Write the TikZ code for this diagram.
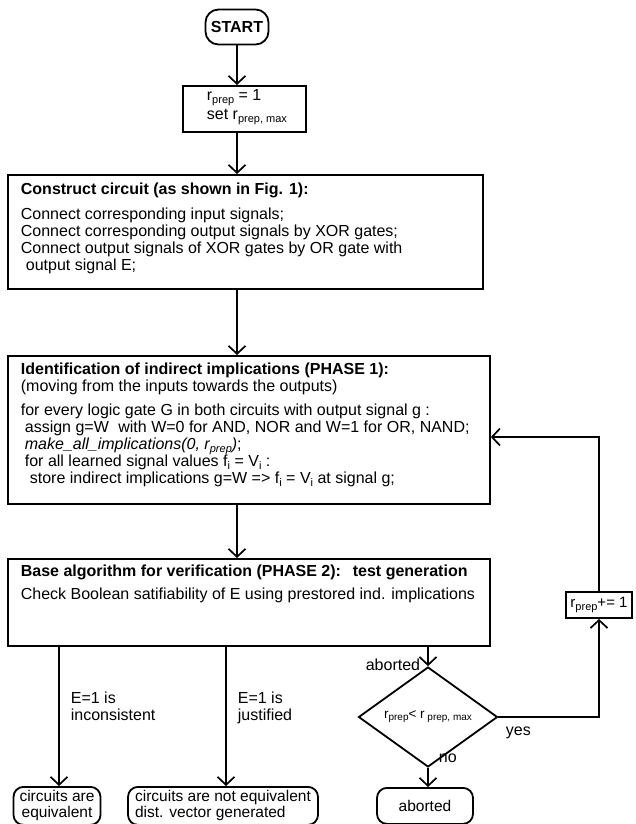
\documentclass[tikz,border=0pt]{standalone}
\usepackage{fontspec}
\setmainfont{Liberation Sans}
\usetikzlibrary{arrows.meta,shapes.geometric}
\newcommand{\sbx}[1]{\raisebox{-0.35ex}{\fontsize{11}{11}\selectfont #1}}
\newcommand{\sbd}[1]{\raisebox{-0.3ex}{\fontsize{10}{10}\selectfont #1}}
\begin{document}
\begin{tikzpicture}[x=1pt,y=-1pt,line width=1.8pt,
  >={Straight Barb[length=8pt,width=17pt,line width=1.7pt]},
  box/.style={draw,rectangle,inner sep=0pt},
  txt/.style={inner sep=0pt,align=left,font=\fontsize{16}{17}\selectfont},
  term/.style={draw,rounded corners=10pt,inner sep=0pt,align=center,font=\fontsize{15.5}{16}\selectfont},
  lbl/.style={inner sep=0pt,align=left,font=\fontsize{16}{17}\selectfont}]
\useasboundingbox (0,0) rectangle (636,824);
\fill[white] (0,0) rectangle (636,824);

% START
\node[term,rounded corners=13pt,minimum width=63pt,minimum height=35pt,font=\fontsize{16}{17}\selectfont\bfseries] (start) at (237,27) {START};

% box 2
\node[box,anchor=north west,minimum width=123pt,minimum height=46pt] (b2) at (182,85) {};
\node[txt,anchor=north west,font=\fontsize{16}{19}\selectfont] (t2) at (206,89) {r\sbx{prep} = 1\\set r\sbx{prep, max}};

% box 3
\node[box,anchor=north west,minimum width=475pt,minimum height=114pt] (b3) at (7,174) {};
\node[txt,anchor=north west] (t3) at (20,182) {\textbf{Construct circuit (as shown in Fig. 1):}\\[8pt]
Connect corresponding input signals;\\
Connect corresponding output signals by XOR gates;\\
Connect output signals of XOR gates by OR gate with\\
\hspace*{5pt}output signal E;};

% box 4
\node[box,anchor=north west,minimum width=482pt,minimum height=148pt] (b4) at (7,355) {};
\node[txt,anchor=north west] (t4) at (20,362) {\textbf{Identification of indirect implications (PHASE 1):}\\
(moving from the inputs towards the outputs)\\[7pt]
for every logic gate G in both circuits with output signal g :\\
\hspace*{4pt}assign g=W\hspace*{5pt} with W=0 for AND, NOR and W=1 for OR, NAND;\\
\hspace*{4pt}\textit{make\_all\_implications(0, r\sbx{prep})};\\
\hspace*{4pt}for all learned signal values f\sbx{i} = V\sbx{i} :\\
\hspace*{9pt}store indirect implications g=W => f\sbx{i} = V\sbx{i} at signal g;};

% box 5
\node[box,anchor=north west,minimum width=482pt,minimum height=87pt] (b5) at (7,558) {};
\node[txt,anchor=north west] (t5) at (20,564) {\textbf{Base algorithm for verification (PHASE 2):\hspace{6pt} test generation}\\[6pt]
Check Boolean satifiability of E using prestored ind. implications};

% terminals
\node[term,anchor=north,minimum width=87pt,minimum height=38pt] (eq) at (57,786) {circuits are\\equivalent};
\node[term,anchor=north,minimum width=190pt,minimum height=38pt,align=left] (neq) at (223,786) {circuits are not equivalent\\dist. vector generated};
\node[term,anchor=north,minimum width=96pt,minimum height=36pt] (ab) at (425,787) {aborted};

% diamond
\node[draw,diamond,minimum width=139pt,minimum height=53pt,inner sep=0pt,font=\fontsize{13.5}{13.5}\selectfont] (dia) at (428,717) {r\sbd{prep}< r\sbd{ prep, max}};

% r_prep += 1
\node[box,minimum width=66pt,minimum height=26pt,font=\fontsize{15}{15}\selectfont] (rp) at (599,605) {r\sbx{prep}+= 1};

\coordinate (lp) at (599,437);

% connectors
\draw[->] (start.south) -- (start |- b2.north);
\draw[->] (start |- b2.south) -- (start |- b3.north);
\draw[->] (start |- b3.south) -- (start |- b4.north);
\draw[->] (start |- b4.south) -- (start |- b5.north);
\draw[->] ([xshift=2pt]eq.north |- b5.south) -- ([xshift=2pt]eq.north);
\draw[->] ([xshift=3pt]neq.north |- b5.south) -- ([xshift=3pt]neq.north);
\draw[->] (dia.north |- b5.south) -- (dia.north);
\draw[->] (dia.south) -- (dia.south |- ab.north);
\draw[->] (dia.east) -| (rp.south);
\draw[->] (rp.north) -- (lp) -- (lp -| b4.east);

% labels
\node[lbl,anchor=north west] (l1) at (70,691) {E=1 is\\inconsistent};
\node[lbl,anchor=north west] (l2) at (237,691) {E=1 is\\justified};
\node[lbl,anchor=east] (l3) at (421,665) {aborted};
\node[lbl,anchor=west] (l4) at (505,733) {yes};
\node[lbl,anchor=west] (l5) at (438,758) {no};
\end{tikzpicture}
\end{document}
